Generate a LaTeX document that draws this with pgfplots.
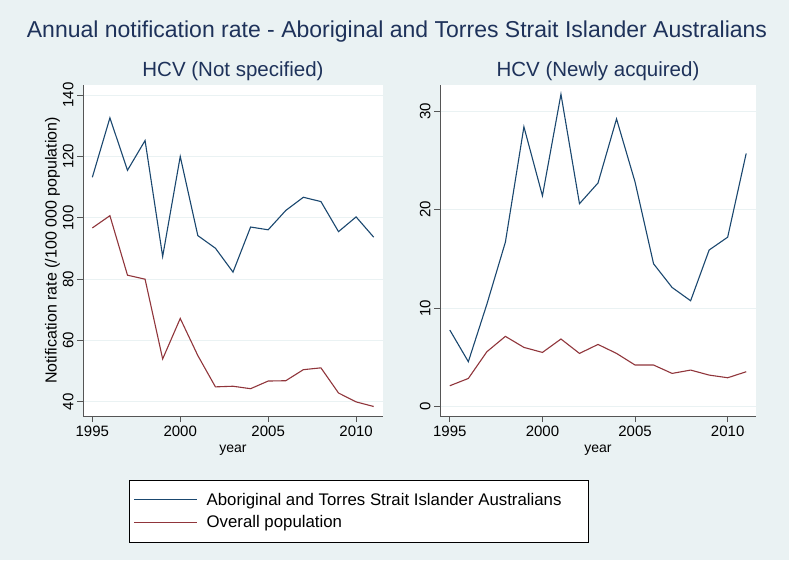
\documentclass[border=0pt]{standalone}
\usepackage{fontspec}
\setmainfont{Liberation Sans}
\usepackage{pgfplots}
\pgfplotsset{compat=1.18}

\definecolor{bgcol}{RGB}{234,242,243}
\definecolor{stnavy}{RGB}{26,71,111}
\definecolor{stmaroon}{RGB}{144,53,59}
\definecolor{titlecol}{RGB}{30,50,90}
\definecolor{axcol}{RGB}{85,85,85}

\pgfplotsset{
  statastyle/.style={
    scale only axis,
    axis x line*=bottom,
    axis y line*=left,
    axis line style={axcol, line width=0.9pt, -},
    tick style={axcol, line width=0.9pt},
    major tick length=6pt,
    tick align=outside,
    xmin=1994.47, xmax=2011.53,
    xtick={1995,2000,2005,2010},
    ymajorgrids=true,
    grid style={bgcol, line width=1pt},
    axis background/.style={fill=white},
    /pgf/number format/assume math mode=true,
    x tick label style={font=\fontsize{15}{15}\selectfont, /pgf/number format/set thousands separator={}},
    y tick label style={font=\fontsize{15}{15}\selectfont, rotate=90, anchor=south},
    xlabel={year},
    xlabel style={font=\fontsize{14}{14}\selectfont, yshift=-2pt},
    title style={font=\fontsize{20.5}{20.5}\selectfont, text=titlecol, yshift=-5pt},
    every axis plot/.append style={line width=1.1pt, no marks},
  }
}

\begin{document}
\begin{tikzpicture}
\fill[bgcol] (0pt,0pt) rectangle (789pt,560pt);
\node[font=\fontsize{23}{23}\selectfont, text=titlecol] at (397pt,528pt) {Annual notification rate - Aboriginal and Torres Strait Islander Australians};

\begin{axis}[statastyle,
  at={(83pt,144pt)}, anchor=south west,
  width=300pt, height=331pt,
  ymin=35.4, ymax=143.3,
  ytick={40,60,80,100,120,140},
  title={HCV (Not specified)},
  ylabel={Notification rate (/100 000 population)},
  ylabel style={font=\fontsize{16}{16}\selectfont, yshift=-4pt},
  legend style={at={(0.92,-0.287)}, anchor=center, draw=black, line width=0.6pt,
    font=\fontsize{16.8}{20}\selectfont, inner xsep=4pt, inner ysep=11pt,
    row sep=5pt},
  legend cell align=left,
  legend image code/.code={\draw[#1] (0pt,0pt) -- (63pt,0pt);},
]
\addplot[stnavy] coordinates {
(1995,113.2) (1996,132.6) (1997,115.5) (1998,125.2) (1999,87.4) (2000,120.0)
(2001,94.2) (2002,90.1) (2003,82.3) (2004,97.0) (2005,96.1) (2006,102.4)
(2007,106.7) (2008,105.3) (2009,95.5) (2010,100.3) (2011,93.7)};
\addplot[stmaroon] coordinates {
(1995,96.7) (1996,100.7) (1997,81.3) (1998,80.0) (1999,54.0) (2000,67.2)
(2001,55.1) (2002,44.9) (2003,45.1) (2004,44.3) (2005,46.8) (2006,46.9)
(2007,50.5) (2008,51.1) (2009,42.9) (2010,40.0) (2011,38.5)};
\legend{\hspace*{7pt}Aboriginal and Torres Strait Islander Australians\hspace*{21pt}, \hspace*{7pt}Overall population}
\end{axis}

\begin{axis}[statastyle,
  at={(440pt,144pt)}, anchor=south west,
  width=316pt, height=331pt,
  ymin=-0.94, ymax=32.64,
  ytick={0,10,20,30},
  title={HCV (Newly acquired)},
]
\addplot[stnavy] coordinates {
(1995,7.78) (1996,4.57) (1997,10.4) (1998,16.7) (1999,28.4) (2000,21.4)
(2001,31.7) (2002,20.6) (2003,22.7) (2004,29.2) (2005,22.8) (2006,14.5)
(2007,12.1) (2008,10.75) (2009,15.9) (2010,17.2) (2011,25.7)};
\addplot[stmaroon] coordinates {
(1995,2.13) (1996,2.87) (1997,5.58) (1998,7.14) (1999,6.02) (2000,5.51)
(2001,6.87) (2002,5.41) (2003,6.32) (2004,5.41) (2005,4.23) (2006,4.23)
(2007,3.38) (2008,3.72) (2009,3.21) (2010,2.94) (2011,3.55)};
\end{axis}
\end{tikzpicture}
\end{document}
